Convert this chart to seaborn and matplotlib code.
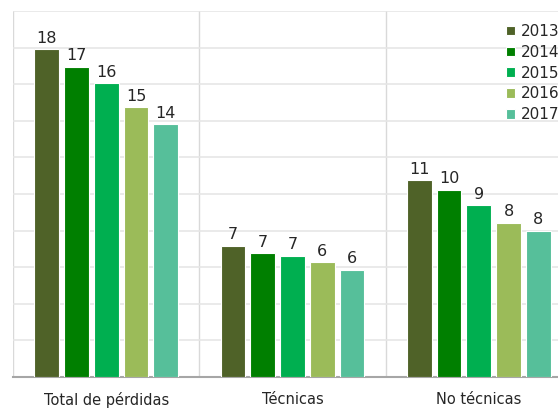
import pandas as pd
import numpy as np
import matplotlib
matplotlib.use('Agg')
import matplotlib.pyplot as plt
import seaborn as sns

# ==========================================
# 1. DATOS (pérdidas de energía, %)
# ==========================================
categorias = ['Total de pérdidas', 'Técnicas', 'No técnicas']
anios = ['2013', '2014', '2015', '2016', '2017']

valores_2013 = [17.9, 7.17, 10.75]
valores_2014 = [16.96, 6.76, 10.24]
valores_2015 = [16.05, 6.63, 9.40]
valores_2016 = [14.74, 6.28, 8.43]
valores_2017 = [13.81, 5.86, 7.98]

colores = ['#4F6228', '#007F00', '#00AF50', '#9BBB59', '#56BF9A']

series = [valores_2013, valores_2014, valores_2015, valores_2016, valores_2017]
filas = []
for anio, vals in zip(anios, series):
    for cat, v in zip(categorias, vals):
        filas.append({'Categoria': cat, 'Anio': anio, 'Valor': v})
df = pd.DataFrame(filas)

# ==========================================
# 2. FIGURA
# ==========================================
sns.set_style('white')
plt.rcParams['font.family'] = ['DejaVu Sans']

fig = plt.figure(figsize=(5.58, 4.09), dpi=100)
ax = fig.add_axes([13 / 558, 32 / 409, 559 / 558, 366 / 409])

sns.barplot(data=df, x='Categoria', y='Valor', hue='Anio', order=categorias,
            hue_order=anios, palette=colores, saturation=1, width=0.8, gap=0.17,
            edgecolor='white', linewidth=0.8, ax=ax, zorder=3)

# Etiquetas de datos (redondeadas)
for cont in ax.containers:
    ax.bar_label(cont, labels=[f'{v:.0f}' for v in cont.datavalues],
                 padding=2.5, fontsize=11.5, color='#262626')

# Ejes
ax.set_xlim(-0.5, 2.5)
ax.set_ylim(0, 20)
ax.set_yticks(np.arange(0, 21, 2))
ax.set_yticklabels([])
ax.tick_params(axis='y', length=0)
ax.grid(axis='y', color='#E6E6E6', linewidth=1.2, zorder=0)

ax.set_xticks(range(len(categorias)))
ax.set_xticklabels(categorias, fontsize=10.5, color='#262626')
ax.set_xticks([-0.5, 0.5, 1.5, 2.5], minor=True)
ax.tick_params(axis='x', which='major', length=0, pad=11)
ax.tick_params(axis='x', which='minor', length=6, color='#A6A6A6', width=1)
ax.grid(axis='x', which='minor', color='#D9D9D9', linewidth=1, zorder=0)
ax.set_axisbelow(True)

ax.set_xlabel('')
ax.set_ylabel('')
for lado in ['top', 'right', 'left']:
    ax.spines[lado].set_visible(False)
ax.spines['bottom'].set_color('#A6A6A6')
ax.spines['bottom'].set_linewidth(1.5)

# Leyenda
handles, labels = ax.get_legend_handles_labels()
ax.legend_.remove()
fig.legend(handles, labels, loc='upper left', bbox_to_anchor=(506 / 558, 1 - 24 / 409),
           frameon=False, fontsize=11, handlelength=0.6, handleheight=0.6,
           handletextpad=0.35, labelspacing=0.38, borderpad=0, borderaxespad=0,
           labelcolor='#262626')

fig.savefig('out.png', dpi=100)
